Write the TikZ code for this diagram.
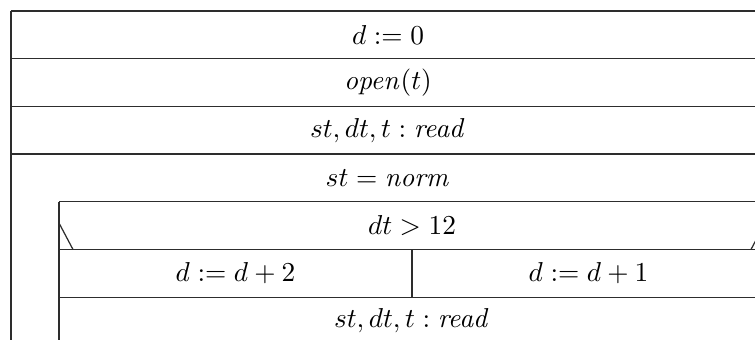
\documentclass[tikz,border=0pt]{standalone}
\usepackage{amsmath}
\usetikzlibrary{positioning}
\definecolor{ink}{RGB}{45,45,45}
\tikzset{
    nsline/.style={
        draw=ink,
        line width=0.45pt
    },
    stmt/.style={
        font=\normalfont,
        text=black,
        inner sep=1pt
    }
}

\begin{document}
\begin{tikzpicture}[x=0.3656pt, y=-0.3656pt]
    \useasboundingbox (0,0) rectangle (755,340);
    \clip (0,0) rectangle (755,340);

    % Sequence blocks
    \draw[nsline] (11,11) -- (765,11);
    \draw[nsline] (11,58.7) -- (765,58.7);
    \draw[nsline] (11,106.4) -- (765,106.4);
    \draw[nsline] (11,154.1) -- (765,154.1);
    \draw[nsline] (11,11) -- (11,360);

    \node[stmt] (init) at (388,34.85) {$d := 0$};
    \node[stmt] (open) at (388,82.55) {$\mathit{open}(t)$};
    \node[stmt] (read1) at (388,130.25) {$st, dt, t : \mathit{read}$};

    % While loop
    \node[stmt] (loop) at (388,177.95) {$st = \mathit{norm}$};
    \draw[nsline] (59,201.8) -- (765,201.8);
    \draw[nsline] (59,201.8) -- (59,360);

    % If block
    \draw[nsline] (59,223) -- (73,249.5);
    \draw[nsline] (765,223) -- (751,249.5);
    \draw[nsline] (59,249.5) -- (765,249.5);
    \draw[nsline] (59,297.2) -- (765,297.2);
    \draw[nsline] (412,249.5) -- (412,297.2);

    \node[stmt] (cond) at (412,225.65) {$dt > 12$};
    \node[stmt] (yes) at (235.5,273.35) {$d := d + 2$};
    \node[stmt] (no) at (588.5,273.35) {$d := d + 1$};

    \node[stmt] (read2) at (412,321.05) {$st, dt, t : \mathit{read}$};

\end{tikzpicture}
\end{document}
